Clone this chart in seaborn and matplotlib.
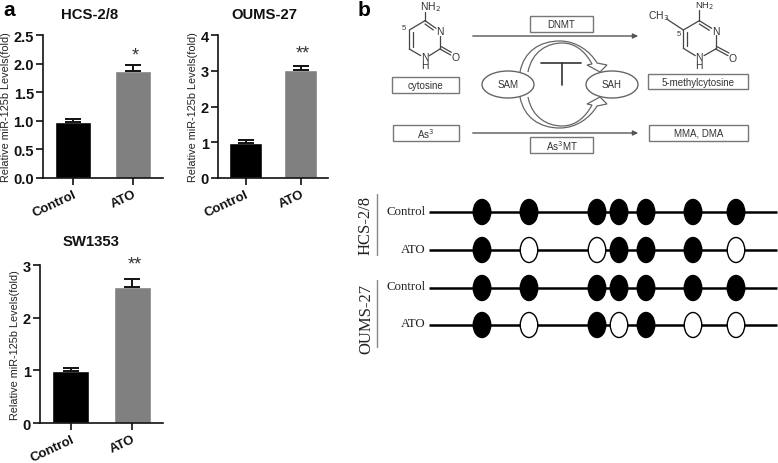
import matplotlib
matplotlib.use("Agg")
import matplotlib.pyplot as plt
import pandas as pd
import seaborn as sns
from matplotlib.patches import Ellipse, PathPatch, Rectangle
from matplotlib.path import Path

W, H = 778, 464

groups = ["Control", "ATO"]
hcs_means = [0.98, 1.87]
hcs_errs = [0.06, 0.11]
oums_means = [0.97, 3.02]
oums_errs = [0.08, 0.11]
sw_means = [0.98, 2.59]
sw_errs = [0.07, 0.15]

hcs_ticks = [0.0, 0.5, 1.0, 1.5, 2.0, 2.5]
oums_ticks = [0, 1, 2, 3, 4]
sw_ticks = [0, 1, 2, 3]

site_x = [482, 529, 597, 619, 646, 693, 736]
row_names = ["Control", "ATO", "Control", "ATO"]
row_y = [213, 251, 289, 326]
# 1 = methylated (filled), 0 = unmethylated (open)
hcs_control = [1, 1, 1, 1, 1, 1, 1]
hcs_ato = [1, 0, 0, 1, 1, 1, 0]
oums_control = [1, 1, 1, 1, 1, 1, 1]
oums_ato = [1, 0, 1, 0, 1, 0, 0]

sns.set_theme(style="ticks")
plt.rcParams["font.family"] = ["Liberation Sans", "DejaVu Sans"]
fig = plt.figure(figsize=(W / 100, H / 100), dpi=100)


def bar_panel(box, title, means, errs, ticks, fmt, stars, star_y, title_x, title_y):
    left, right, top, bottom = box
    ax = fig.add_axes([left / W, 1 - bottom / H, (right - left) / W, (bottom - top) / H])
    df = pd.DataFrame({"group": groups, "value": means})
    sns.barplot(data=df, x="group", y="value", hue="group", ax=ax, width=0.6,
                palette=["#000000", "#808080"], legend=False, saturation=1)
    ax.errorbar([0, 1], means, yerr=[[0, 0], errs], fmt="none", ecolor="#111111",
                elinewidth=1.4, capsize=5.5, capthick=1.4)
    ax.set_xlim(-0.5, 1.5)
    ax.set_ylim(ticks[0], ticks[-1])
    ax.set_yticks(ticks)
    ax.set_yticklabels([fmt.format(t) for t in ticks], fontsize=10.5, fontweight="bold", color="#111111")
    ax.set_xticks([0, 1])
    ax.set_xticklabels(groups, fontsize=9.5, fontweight="bold", rotation=25, ha="right",
                       rotation_mode="anchor", color="#111111")
    ax.set_xlabel("")
    ax.set_ylabel("Relative miR-125b Levels(fold)", fontsize=7.8, color="#222222", labelpad=2)
    ax.tick_params(axis="both", length=5, width=1.2, color="#111111", pad=1.5)
    ax.tick_params(axis="x", pad=2)
    sns.despine(ax=ax)
    for side in ["left", "bottom"]:
        ax.spines[side].set_linewidth(1.2)
        ax.spines[side].set_color("#111111")
    ax.text(1.04, star_y, stars, ha="center", va="center", fontsize=13, color="#333333", clip_on=False)
    fig.text(title_x / W, 1 - title_y / H, title, ha="center", va="center",
             fontsize=10.7, fontweight="bold", color="#111111")
    return ax


bar_panel((43, 163, 36, 179), "HCS-2/8", hcs_means, hcs_errs, hcs_ticks, "{:.1f}", "*", 2.15, 90, 15)
bar_panel((218, 328, 36, 179), "OUMS-27", oums_means, oums_errs, oums_ticks, "{:d}", "**", 3.5, 264, 15)
bar_panel((40, 163, 266, 424), "SW1353", sw_means, sw_errs, sw_ticks, "{:d}", "**", 3.02, 91, 242)

# overlay in pixel coordinates for the schematic
ov = fig.add_axes([0, 0, 1, 1], facecolor="none")
ov.set_xlim(0, W)
ov.set_ylim(H, 0)
ov.axis("off")

ov.text(3, 11, "a", fontsize=15, fontweight="bold", ha="left", va="center", color="black")
ov.text(358, 10, "b", fontsize=15, fontweight="bold", ha="left", va="center", color="black")

GREY = "#555555"


def box(x0, x1, y0, y1, label, size=7):
    ov.add_patch(Rectangle((x0, y0), x1 - x0, y1 - y0, fc="white", ec="#777777", lw=1))
    ov.text((x0 + x1) / 2, (y0 + y1) / 2, label, ha="center", va="center", fontsize=size, color="#333333")


box(530, 593, 17, 33, "DNMT")
box(392, 459, 78, 94, "cytosine")
box(648, 748, 75, 90, "5-methylcytosine")
box(393, 459, 126, 142, "As$^{3}$")
box(649, 748, 126, 142, "MMA, DMA")
box(530, 593, 138, 154, "As$^{3}$MT")

for y in [37, 134]:
    ov.annotate("", xy=(641, y), xytext=(470, y),
                arrowprops=dict(arrowstyle="-|>,head_length=0.25,head_width=0.12", color=GREY, lw=1))


def hollow_arrow(flip):
    # outline of the curved open arrow from SAM to SAH, mirrored for the lower one
    pts = [(520, 73), (524, 52), (540, 42), (560, 42), (576, 42), (590, 52), (597, 64),
           (607, 66), (600, 73), (587, 66), (592, 65),
           (585, 52), (575, 44), (562, 44), (548, 44), (532, 52), (528, 73)]
    codes = [Path.MOVETO] + [Path.CURVE4] * 6 + [Path.LINETO] * 4 + [Path.CURVE4] * 6
    if flip:
        pts = [(x, 171 - y) for x, y in pts]
    ov.add_patch(PathPatch(Path(pts, codes), fc="white", ec="#666666", lw=0.9, zorder=2))


hollow_arrow(False)
hollow_arrow(True)

for cx, label in [(508, "SAM"), (612, "SAH")]:
    ov.add_patch(Ellipse((cx, 85.5), 52, 27, fc="white", ec="#666666", lw=1, zorder=3))
    ov.text(cx, 85.5, label, ha="center", va="center", fontsize=7, color="#333333", zorder=4)

ov.plot([541, 581], [63.5, 63.5], color="#333333", lw=1.2)
ov.plot([562, 562], [63.5, 86], color="#333333", lw=1.2)


def seg(pairs):
    for (a, b, c, d) in pairs:
        ov.plot([380 + a / 3, 380 + c / 3], [b / 3, d / 3], color="#444444", lw=0.9)


def lab(x, y, s, size=7.5, **kw):
    ov.text(380 + x / 3, y / 3, s, ha="center", va="center", fontsize=size, color="#333333", **kw)


# cytosine
seg([(135, 40, 135, 65), (135, 65, 88, 93), (88, 93, 88, 150), (98, 100, 98, 143), (88, 150, 122, 170),
     (148, 170, 180, 150), (180, 150, 180, 112), (135, 65, 168, 88), (135, 75, 160, 93),
     (180, 150, 212, 168), (184, 143, 214, 160)])
lab(152, 20, "NH$_2$")
lab(180, 97, "N")
lab(135, 187, "N\nH", linespacing=0.75)
lab(227, 175, "O")
lab(72, 85, "5", 5.5)

# 5-methylcytosine
seg([(958, 32, 958, 65), (958, 65, 910, 93), (910, 93, 910, 148), (920, 100, 920, 141), (910, 148, 946, 170),
     (972, 170, 1007, 150), (1007, 150, 1007, 108), (958, 65, 995, 88), (958, 75, 988, 94),
     (1007, 150, 1044, 170), (1011, 143, 1047, 162), (860, 60, 910, 93)])
lab(975, 19, "NH$_2$", 6.8)
lab(1007, 97, "N")
lab(958, 187, "N\nH", linespacing=0.75)
lab(1057, 177, "O")
lab(835, 48, "CH$_3$")
lab(897, 103, "5", 5.5)

# methylation rows
rows = [hcs_control, hcs_ato, oums_control, oums_ato]
name_y = [212, 250, 287, 324]
for y, ny, name, states in zip(row_y, name_y, row_names, rows):
    ov.plot([429, 777], [y, y], color="black", lw=1.8, solid_capstyle="butt", zorder=1)
    ov.text(426, ny, name, ha="right", va="center", fontsize=9.3, family="Liberation Serif", color="#222222")
    for x, state in zip(site_x, states):
        ov.add_patch(Ellipse((x, y), 17.5, 25, fc="black" if state else "white", ec="black", lw=1, zorder=2))

ov.plot([377, 377], [195, 256], color="#888888", lw=1)
ov.plot([377, 377], [281, 348], color="#888888", lw=1)
ov.text(366, 225.5, "HCS-2/8", rotation=90, ha="center", va="center", fontsize=12, family="Liberation Serif", color="#222222")
ov.text(366, 319, "OUMS-27", rotation=90, ha="center", va="center", fontsize=12, family="Liberation Serif", color="#222222")

fig.savefig("out.png", dpi=100)
